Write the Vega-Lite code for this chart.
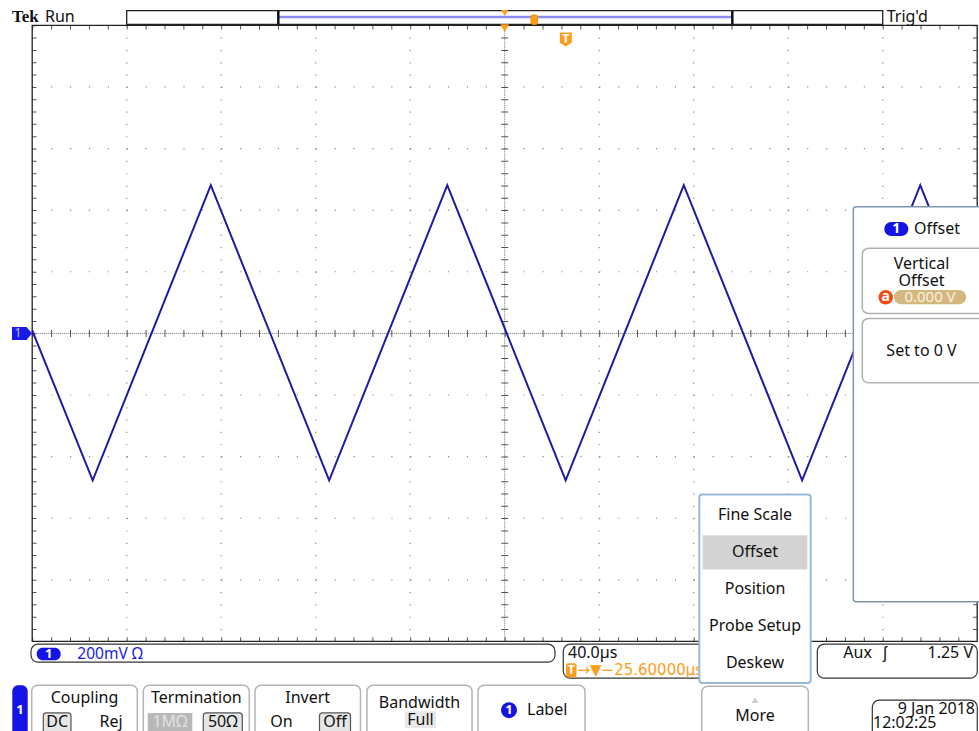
{
  "$schema": "https://vega.github.io/schema/vega-lite/v6.json",
  "width": 979,
  "height": 731,
  "padding": 0,
  "autosize": {"type": "none"},
  "background": "white",
  "config": {"view": {"stroke": null}},
  "encoding": {
    "x": {"field": "t", "type": "quantitative", "scale": {"domain": [-213.63, 200.76], "nice": false, "zero": false}, "axis": null},
    "y": {"field": "v", "type": "quantitative", "scale": {"domain": [-1.2906, 1.0821], "nice": false, "zero": false}, "axis": null}
  },
  "layer": [
    {
      "data": {"values": [{"t": -160, "v": 1, "v2": -1}, {"t": -120, "v": 1, "v2": -1}, {"t": -80, "v": 1, "v2": -1}, {"t": -40, "v": 1, "v2": -1}, {"t": 40, "v": 1, "v2": -1}, {"t": 80, "v": 1, "v2": -1}, {"t": 120, "v": 1, "v2": -1}, {"t": 160, "v": 1, "v2": -1}]},
      "mark": {"type": "rule", "color": "#8a8a8a", "strokeWidth": 1.2, "strokeDash": [1.2, 11.12]},
      "encoding": {"y2": {"field": "v2"}}
    },
    {
      "data": {"values": [{"t": -200, "t2": 200, "v": 0.8}, {"t": -200, "t2": 200, "v": 0.6}, {"t": -200, "t2": 200, "v": 0.4}, {"t": -200, "t2": 200, "v": 0.2}, {"t": -200, "t2": 200, "v": -0.2}, {"t": -200, "t2": 200, "v": -0.4}, {"t": -200, "t2": 200, "v": -0.6}, {"t": -200, "t2": 200, "v": -0.8}]},
      "mark": {"type": "rule", "color": "#8a8a8a", "strokeWidth": 1.2, "strokeDash": [1.2, 17.7]},
      "encoding": {"x2": {"field": "t2"}}
    },
    {
      "data": {"values": [{"t": 0, "v": 1, "v2": -1}]},
      "mark": {"type": "rule", "color": "#707070", "strokeWidth": 1, "strokeDash": [1, 1]},
      "encoding": {"y2": {"field": "v2"}}
    },
    {
      "data": {"values": [{"t": -200, "t2": 200, "v": 0}]},
      "mark": {"type": "rule", "color": "#707070", "strokeWidth": 1, "strokeDash": [1, 1]},
      "encoding": {"x2": {"field": "t2"}}
    },
    {
      "data": {"values": [{"t": 0, "v": 1, "v2": -1}]},
      "mark": {"type": "rule", "color": "#555555", "strokeWidth": 7, "strokeDash": [1, 11.32]},
      "encoding": {"y2": {"field": "v2"}}
    },
    {
      "data": {"values": [{"t": -200, "t2": 200, "v": 0}]},
      "mark": {"type": "rule", "color": "#555555", "strokeWidth": 7, "strokeDash": [1, 17.9]},
      "encoding": {"x2": {"field": "t2"}}
    },
    {
      "data": {"values": [{"t": -199.03, "v": 1, "v2": -1}, {"t": 199.07, "v": 1, "v2": -1}]},
      "mark": {"type": "rule", "color": "#555555", "strokeWidth": 4, "strokeDash": [1, 11.32]},
      "encoding": {"y2": {"field": "v2"}}
    },
    {
      "data": {"values": [{"t": -200, "t2": 200, "v": 0.9929}, {"t": -200, "t2": 200, "v": -0.9925}]},
      "mark": {"type": "rule", "color": "#555555", "strokeWidth": 4, "strokeDash": [1, 17.9]},
      "encoding": {"x2": {"field": "t2"}}
    },
    {
      "data": {"values": [{"t": -200, "t2": 200, "v": -1, "v2": 1}]},
      "mark": {"type": "rect", "filled": false, "color": "#222222", "strokeWidth": 1.3},
      "encoding": {"x2": {"field": "t2"}, "y2": {"field": "v2"}}
    },
    {
      "data": {"values": [
        {"t": -200, "v": 0.01}, {"t": -174.4, "v": -0.477}, {"t": -124.4, "v": 0.481}, {"t": -74.3, "v": -0.477},
        {"t": -24.3, "v": 0.481}, {"t": 25.8, "v": -0.477}, {"t": 75.8, "v": 0.481}, {"t": 125.9, "v": -0.477},
        {"t": 175.9, "v": 0.481}, {"t": 200, "v": 0.02}
      ]},
      "mark": {"type": "line", "color": "#1c1ca2", "strokeWidth": 2},
      "encoding": {"order": {"field": "t", "type": "quantitative"}}
    },
    {
      "data": {"values": [{"t": -160, "t2": 160, "v": 1.0474, "v2": 1.0032}]},
      "mark": {"type": "rect", "fill": "white", "stroke": "#222222", "strokeWidth": 1.3},
      "encoding": {"x2": {"field": "t2"}, "y2": {"field": "v2"}}
    },
    {
      "data": {"values": [{"t": -95.83, "t2": 96.34, "v": 1.027}]},
      "mark": {"type": "rule", "color": "#8c8cf0", "strokeWidth": 2.5},
      "encoding": {"x2": {"field": "t2"}}
    },
    {
      "data": {"values": [{"t": -95.83, "v": 1.0474, "v2": 1.0032}, {"t": 96.34, "v": 1.0474, "v2": 1.0032}]},
      "mark": {"type": "rule", "color": "#111111", "strokeWidth": 2.5},
      "encoding": {"y2": {"field": "v2"}}
    },
    {
      "data": {"values": [{"t": 11.13, "t2": 13.88, "v": 1.0334, "v2": 1.0026}]},
      "mark": {"type": "rect", "fill": "#ff9c1a", "stroke": "#f08a00", "cornerRadius": 2},
      "encoding": {"x2": {"field": "t2"}, "y2": {"field": "v2"}}
    },
    {
      "data": {"values": [{"t": 0, "v": 1.0399, "s": 50}, {"t": 0, "v": 0.9912, "s": 80}]},
      "mark": {"type": "point", "shape": "triangle-down", "filled": true, "color": "#ff9c1a", "opacity": 1},
      "encoding": {"size": {"field": "s", "type": "quantitative", "scale": null, "legend": null}}
    },
    {
      "data": {"values": [{"t": 25.86, "v": 0.9539}]},
      "mark": {"type": "point", "shape": "M-0.85,-1L0.85,-1L0.85,0.45L0,1L-0.85,0.45Z", "size": 196, "filled": true, "color": "#ff9c1a", "opacity": 1},
      "encoding": {}
    },
    {
      "data": {"values": [{"t": -204.32, "v": 0}]},
      "mark": {"type": "point", "shape": "M-1,-0.65L0.45,-0.65L1,0L0.45,0.65L-1,0.65Z", "size": 400, "filled": true, "color": "#1a1ae6", "opacity": 1},
      "encoding": {}
    },
    {
      "data": {"values": [{"label": "1", "t": -206.0, "v": 0}]},
      "mark": {"type": "text", "font": "Noto Sans", "fontSize": 13, "color": "#b8b8ff", "align": "center", "baseline": "middle"},
      "encoding": {"text": {"field": "label"}}
    },
    {
      "data": {"values": [{"label": "Tek", "t": -208.55, "v": 1.0253}]},
      "mark": {"type": "text", "font": "Liberation Serif", "fontSize": 17, "fontWeight": "bold", "color": "#111111", "align": "left", "baseline": "middle"},
      "encoding": {"text": {"field": "label"}}
    },
    {
      "data": {"values": [
        {"t": -200.51, "t2": 21.29, "v": -1.0088, "v2": -1.0672},
        {"t": 24.80, "t2": 91.13, "v": -1.0088, "v2": -1.1191},
        {"t": 132.32, "t2": 200.04, "v": -1.0088, "v2": -1.1191},
        {"t": 155.60, "t2": 200.04, "v": -1.1906, "v2": -1.33}
      ]},
      "mark": {"type": "rect", "fill": "white", "stroke": "#333333", "strokeWidth": 1.2, "cornerRadius": 7},
      "encoding": {"x2": {"field": "t2"}, "y2": {"field": "v2"}}
    },
    {
      "data": {"values": [
        {"t": -200.21, "t2": -155.51, "v": -1.1419, "v2": -1.34},
        {"t": -152.97, "t2": -108.11, "v": -1.1419, "v2": -1.34},
        {"t": -105.69, "t2": -61.04, "v": -1.1419, "v2": -1.34},
        {"t": -58.29, "t2": -13.84, "v": -1.1419, "v2": -1.34},
        {"t": -11.30, "t2": 33.99, "v": -1.1419, "v2": -1.34},
        {"t": 83.39, "t2": 128.51, "v": -1.1451, "v2": -1.34}
      ]},
      "mark": {"type": "rect", "fill": "white", "stroke": "#b5b5b5", "strokeWidth": 1.5, "cornerRadius": 6},
      "encoding": {"x2": {"field": "t2"}, "y2": {"field": "v2"}}
    },
    {
      "data": {"values": [
        {"t": -195.30, "t2": -183.58, "v": -1.2318, "v2": -1.34},
        {"t": -127.58, "t2": -111.07, "v": -1.2318, "v2": -1.34},
        {"t": -78.39, "t2": -65.27, "v": -1.2318, "v2": -1.34}
      ]},
      "mark": {"type": "rect", "fill": "#e6e6e6", "stroke": "#555555", "strokeWidth": 1.2, "cornerRadius": 3},
      "encoding": {"x2": {"field": "t2"}, "y2": {"field": "v2"}}
    },
    {
      "data": {"values": [{"t": -151.11, "t2": -132.23, "v": -1.2318, "v2": -1.34}]},
      "mark": {"type": "rect", "fill": "#b8b8b8"},
      "encoding": {"x2": {"field": "t2"}, "y2": {"field": "v2"}}
    },
    {
      "data": {"values": [{"t": -42.20, "t2": -29.08, "v": -1.2263, "v2": -1.2815}]},
      "mark": {"type": "rect", "fill": "#e8e8e8"},
      "encoding": {"x2": {"field": "t2"}, "y2": {"field": "v2"}}
    },
    {
      "data": {"values": [
        {"t": -198.10, "t2": -187.94, "v": -1.0201, "v2": -1.0607},
        {"t": -208.42, "t2": -201.90, "v": -1.1419, "v2": -1.34}
      ]},
      "mark": {"type": "rect", "fill": "#1414e6", "cornerRadius": 6},
      "encoding": {"x2": {"field": "t2"}, "y2": {"field": "v2"}}
    },
    {
      "data": {"values": [{"t": 1.82, "v": -1.2231}]},
      "mark": {"type": "point", "shape": "circle", "size": 256, "filled": true, "color": "#1414e6", "opacity": 1},
      "encoding": {}
    },
    {
      "data": {"values": [{"t": 25.95, "t2": 30.39, "v": -1.0705, "v2": -1.1159}]},
      "mark": {"type": "rect", "fill": "#ff9c1a", "cornerRadius": 2},
      "encoding": {"x2": {"field": "t2"}, "y2": {"field": "v2"}}
    },
    {
      "data": {"values": [{"t": 105.95, "v": -1.1906}]},
      "mark": {"type": "point", "shape": "triangle-up", "size": 45, "filled": true, "color": "#cccccc", "opacity": 1},
      "encoding": {}
    },
    {
      "data": {"values": [
        {"label": "1", "t": -193.02, "v": -1.0412},
        {"label": "1", "t": -205.16, "v": -1.2231},
        {"label": "1", "t": 1.82, "v": -1.2231},
        {"label": "T", "t": 28.17, "v": -1.0932},
        {"label": "T", "t": 25.86, "v": 0.957}
      ]},
      "mark": {"type": "text", "font": "Noto Sans", "fontSize": 13, "fontWeight": "bold", "color": "white", "align": "center", "baseline": "middle"},
      "encoding": {"text": {"field": "label"}}
    },
    {
      "data": {"values": [{"label": "200mV Ω", "t": -180.91, "v": -1.0412}]},
      "mark": {"type": "text", "font": "Noto Sans", "fontSize": 15.5, "color": "#1a1ae6", "align": "left", "baseline": "middle"},
      "encoding": {"text": {"field": "label"}}
    },
    {
      "data": {"values": [{"label": "→▼−25.60000µs", "t": 30.81, "v": -1.0932}]},
      "mark": {"type": "text", "font": "DejaVu Sans", "fontSize": 15, "color": "#ff9c1a", "align": "left", "baseline": "middle"},
      "encoding": {"text": {"field": "label"}}
    },
    {
      "data": {"values": [
        {"label": "Run", "t": -194.6, "v": 1.0253},
        {"label": "Trig'd", "t": 161.69, "v": 1.0253},
        {"label": "40.0µs", "t": 26.79, "v": -1.0380},
        {"label": "Aux", "t": 143.32, "v": -1.0380},
        {"label": "Label", "t": 9.44, "v": -1.2231},
        {"label": "12:02:25", "t": 155.89, "v": -1.2652}
      ]},
      "mark": {"type": "text", "font": "Noto Sans", "fontSize": 16, "color": "#111111", "align": "left", "baseline": "middle"},
      "encoding": {"text": {"field": "label"}}
    },
    {
      "data": {"values": [
        {"label": "1.25 V", "t": 198.22, "v": -1.0380},
        {"label": "9 Jan  2018", "t": 199.07, "v": -1.2180}
      ]},
      "mark": {"type": "text", "font": "Noto Sans", "fontSize": 16, "color": "#111111", "align": "right", "baseline": "middle"},
      "encoding": {"text": {"field": "label"}}
    },
    {
      "data": {"values": [
        {"label": "ʃ", "t": 160.97, "v": -1.0380},
        {"label": "Coupling", "t": -177.86, "v": -1.1841},
        {"label": "Termination", "t": -130.54, "v": -1.1841},
        {"label": "Invert", "t": -83.39, "v": -1.1841},
        {"label": "Bandwidth", "t": -36.06, "v": -1.1984},
        {"label": "Full", "t": -35.64, "v": -1.2540},
        {"label": "DC", "t": -189.42, "v": -1.2620},
        {"label": "Rej", "t": -166.65, "v": -1.2620},
        {"label": "50Ω", "t": -119.32, "v": -1.2620},
        {"label": "On", "t": -94.48, "v": -1.2620},
        {"label": "Off", "t": -71.83, "v": -1.2620},
        {"label": "More", "t": 105.95, "v": -1.2425}
      ]},
      "mark": {"type": "text", "font": "Noto Sans", "fontSize": 16, "color": "#111111", "align": "center", "baseline": "middle"},
      "encoding": {"text": {"field": "label"}}
    },
    {
      "data": {"values": [{"label": "1MΩ", "t": -141.67, "v": -1.2620}]},
      "mark": {"type": "text", "font": "Noto Sans", "fontSize": 16, "color": "#e2e2e2", "align": "center", "baseline": "middle"},
      "encoding": {"text": {"field": "label"}}
    },
    {
      "data": {"values": [{"t": 82.37, "t2": 129.52, "v": -0.5227, "v2": -1.1344}]},
      "mark": {"type": "rect", "fill": "white", "stroke": "#9ab8dc", "strokeWidth": 2, "cornerRadius": 3},
      "encoding": {"x2": {"field": "t2"}, "y2": {"field": "v2"}}
    },
    {
      "data": {"values": [{"t": 83.81, "t2": 128.08, "v": -0.6549, "v2": -0.7662}]},
      "mark": {"type": "rect", "fill": "#d3d3d3"},
      "encoding": {"x2": {"field": "t2"}, "y2": {"field": "v2"}}
    },
    {
      "data": {"values": [
        {"label": "Fine Scale", "t": 105.95, "v": -0.5899},
        {"label": "Offset", "t": 105.95, "v": -0.7101},
        {"label": "Position", "t": 105.95, "v": -0.8302},
        {"label": "Probe Setup", "t": 105.95, "v": -0.9503},
        {"label": "Deskew", "t": 105.95, "v": -1.0705}
      ]},
      "mark": {"type": "text", "font": "Noto Sans", "fontSize": 16, "color": "#111111", "align": "center", "baseline": "middle"},
      "encoding": {"text": {"field": "label"}}
    },
    {
      "data": {"values": [{"t": 147.56, "t2": 206, "v": 0.4110, "v2": -0.8714}]},
      "mark": {"type": "rect", "fill": "white", "stroke": "#7f96b2", "strokeWidth": 1.5, "cornerRadius": 3},
      "encoding": {"x2": {"field": "t2"}, "y2": {"field": "v2"}}
    },
    {
      "data": {"values": [
        {"t": 151.37, "t2": 206, "v": 0.2760, "v2": 0.0649},
        {"t": 151.37, "t2": 206, "v": 0.0487, "v2": -0.1604}
      ]},
      "mark": {"type": "rect", "fill": "white", "stroke": "#b0b0b0", "strokeWidth": 1.5, "cornerRadius": 6},
      "encoding": {"x2": {"field": "t2"}, "y2": {"field": "v2"}}
    },
    {
      "data": {"values": [{"t": 160.68, "t2": 170.84, "v": 0.3614, "v2": 0.3159}]},
      "mark": {"type": "rect", "fill": "#1414e6", "cornerRadius": 7},
      "encoding": {"x2": {"field": "t2"}, "y2": {"field": "v2"}}
    },
    {
      "data": {"values": [{"t": 164.78, "t2": 195.26, "v": 0.1406, "v2": 0.0942}]},
      "mark": {"type": "rect", "fill": "#d4b77e", "cornerRadius": 7},
      "encoding": {"x2": {"field": "t2"}, "y2": {"field": "v2"}}
    },
    {
      "data": {"values": [{"t": 161.27, "v": 0.1169}]},
      "mark": {"type": "point", "shape": "circle", "size": 210, "filled": true, "color": "#f04a10", "opacity": 1},
      "encoding": {}
    },
    {
      "data": {"values": [
        {"label": "1", "t": 165.76, "v": 0.3377},
        {"label": "a", "t": 161.27, "v": 0.1169}
      ]},
      "mark": {"type": "text", "font": "Noto Sans", "fontSize": 14, "fontWeight": "bold", "color": "white", "align": "center", "baseline": "middle"},
      "encoding": {"text": {"field": "label"}}
    },
    {
      "data": {"values": [{"label": "0.000 V", "t": 180.02, "v": 0.1169}]},
      "mark": {"type": "text", "font": "Noto Sans", "fontSize": 15, "color": "#faf2e2", "align": "center", "baseline": "middle"},
      "encoding": {"text": {"field": "label"}}
    },
    {
      "data": {"values": [{"label": "Offset", "t": 173.25, "v": 0.3377}]},
      "mark": {"type": "text", "font": "Noto Sans", "fontSize": 16, "color": "#111111", "align": "left", "baseline": "middle"},
      "encoding": {"text": {"field": "label"}}
    },
    {
      "data": {"values": [
        {"label": "Vertical", "t": 176.42, "v": 0.2240},
        {"label": "Offset", "t": 176.42, "v": 0.1708},
        {"label": "Set to 0 V", "t": 176.42, "v": -0.0565}
      ]},
      "mark": {"type": "text", "font": "Noto Sans", "fontSize": 16, "color": "#111111", "align": "center", "baseline": "middle"},
      "encoding": {"text": {"field": "label"}}
    }
  ]
}
